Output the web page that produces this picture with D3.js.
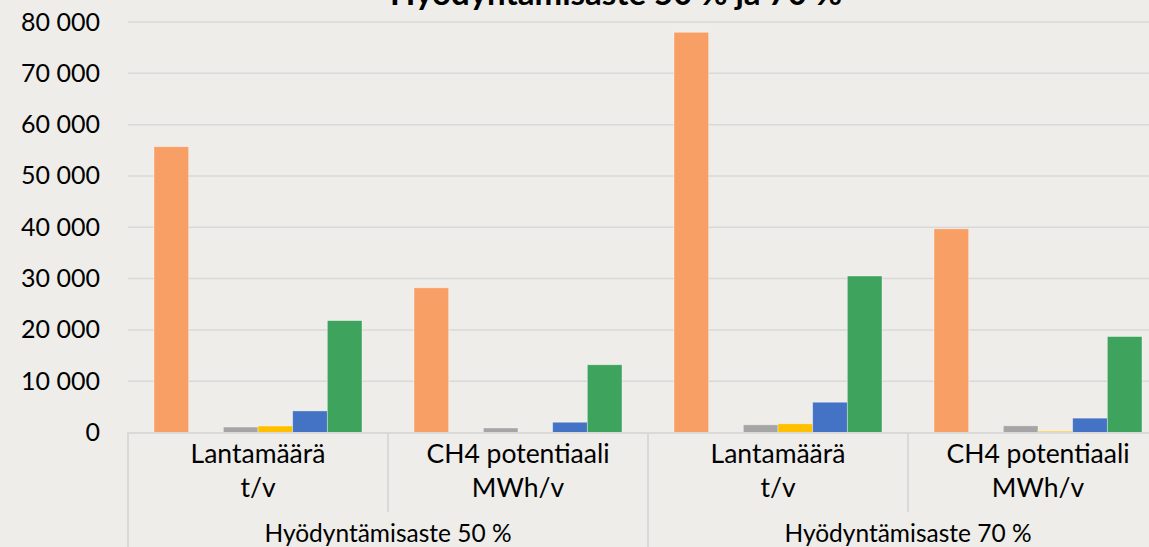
<!DOCTYPE html>
<html>
<head>
<meta charset="utf-8">
<script src="https://cdn.jsdelivr.net/npm/d3@7"></script>
<style>
  html, body { margin: 0; padding: 0; background: #EEEDE9; }
  svg { display: block; font-family: Lato, "Open Sans", sans-serif; }
</style>
</head>
<body>
<svg id="chart" width="1149" height="547"></svg>
<script>
// ---- data ----
const title = "Hyödyntämisaste 50 % ja 70 %";
const outerGroups = ["Hyödyntämisaste 50 %", "Hyödyntämisaste 70 %"];
const innerLabels = [["Lantamäärä", "t/v"], ["CH4 potentiaali", "MWh/v"], ["Lantamäärä", "t/v"], ["CH4 potentiaali", "MWh/v"]];
const categoryGroup = [0, 0, 1, 1];
const seriesNames = ["Sarja 1", "Sarja 2", "Sarja 3", "Sarja 4", "Sarja 5", "Sarja 6"];
const series1 = [55700, 28200, 78000, 39700];
const series2 = [0, 0, 0, 0];
const series3 = [1070, 880, 1500, 1300];
const series4 = [1270, 0, 1700, 250];
const series5 = [4200, 2000, 5900, 2800];
const series6 = [21800, 13200, 30500, 18700];
const yTicks = [0, 10000, 20000, 30000, 40000, 50000, 60000, 70000, 80000];
const colors = ["#F89F66", "#5B9BD5", "#A5A5A5", "#FFC000", "#4472C4", "#3DA35D"];

const allSeries = [series1, series2, series3, series4, series5, series6];

// ---- layout ----
const W = 1149, H = 547;
const plotLeft = 128, plotRight = 1168, yTop = 22, yBottom = 432.5;
const svg = d3.select("#chart");
const gridColor = "#D9D9D9";

const catIdx = innerLabels.map((d, i) => i);
const x0 = d3.scaleBand().domain(catIdx).range([plotLeft, plotRight]).paddingInner(0).paddingOuter(0);
const x1 = d3.scaleBand().domain(d3.range(allSeries.length)).range([0, x0.bandwidth()])
  .paddingInner(0).paddingOuter(0.75);
const y = d3.scaleLinear().domain([0, 80000]).range([yBottom, yTop]);

const fmt = v => d3.format(",")(v).replace(/,/g, " ");

// gridlines
svg.append("g").selectAll("line").data(yTicks.filter(t => t > 0)).join("line")
  .attr("x1", plotLeft).attr("x2", W)
  .attr("y1", d => y(d)).attr("y2", d => y(d))
  .attr("stroke", gridColor).attr("stroke-width", 1.5);

// y axis labels
const yAxis = d3.axisLeft(y).tickValues(yTicks).tickFormat(fmt).tickSize(0).tickPadding(0);
const gy = svg.append("g").attr("transform", "translate(100,0)").call(yAxis);
gy.select(".domain").remove();
gy.selectAll("text").attr("font-size", 25).attr("fill", "#000").attr("font-family", "Lato, 'Open Sans', sans-serif");

// bars
const gBars = svg.append("g");
catIdx.forEach(ci => {
  allSeries.forEach((s, si) => {
    const v = s[ci];
    if (v <= 0) return;
    gBars.append("rect")
      .attr("x", x0(ci) + x1(si))
      .attr("width", x1.bandwidth())
      .attr("y", y(v))
      .attr("height", yBottom - y(v))
      .attr("fill", colors[si])
      .attr("stroke", "rgba(255,255,255,0.45)")
      .attr("stroke-width", 0.8);
  });
});

// x axis baseline
svg.append("line").attr("x1", plotLeft).attr("x2", W).attr("y1", yBottom + 0.5).attr("y2", yBottom + 0.5)
  .attr("stroke", gridColor).attr("stroke-width", 2);

// category separators
const innerBottom = 512, outerBottom = H;
const sepG = svg.append("g").attr("stroke", gridColor).attr("stroke-width", 2);
catIdx.forEach(ci => {
  const xx = x0(ci);
  const isOuter = ci === 0 || categoryGroup[ci] !== categoryGroup[ci - 1];
  sepG.append("line").attr("x1", xx).attr("x2", xx).attr("y1", yBottom).attr("y2", isOuter ? outerBottom : innerBottom);
});

// inner labels
const labG = svg.append("g").attr("fill", "#000").attr("text-anchor", "middle");
catIdx.forEach(ci => {
  const cx = x0(ci) + x0.bandwidth() / 2;
  labG.append("text").attr("x", cx).attr("y", 463).attr("font-size", 26.5).text(innerLabels[ci][0]);
  labG.append("text").attr("x", cx).attr("y", 497).attr("font-size", 26.5).text(innerLabels[ci][1]);
});
// outer labels
outerGroups.forEach((g, gi) => {
  const members = catIdx.filter(ci => categoryGroup[ci] === gi);
  const xs = x0(members[0]);
  const xe = x0(members[members.length - 1]) + x0.bandwidth();
  labG.append("text").attr("x", (xs + xe) / 2).attr("y", 542).attr("font-size", 24.5).text(g);
});

// title (cut off at top, as in the reference)
svg.append("text").attr("x", 616).attr("y", 5).attr("text-anchor", "middle")
  .attr("font-size", 33).attr("font-weight", "bold").attr("fill", "#000").text(title);
</script>
</body>
</html>
